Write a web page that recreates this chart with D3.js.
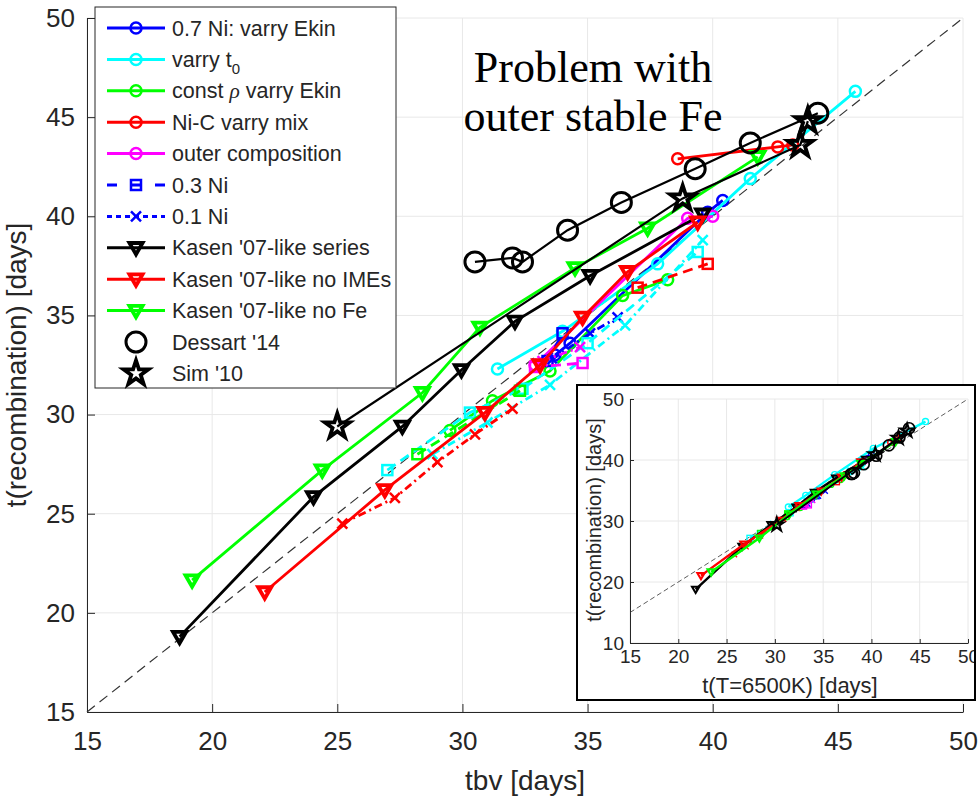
<!DOCTYPE html>
<html>
<head>
<meta charset="utf-8">
<script src="https://cdn.jsdelivr.net/npm/d3@7"></script>
<style>
  body { margin: 0; background: #fff; }
  svg { font-family: "Liberation Sans", Arial, sans-serif; }
</style>
</head>
<body>
<svg id="chart" width="979" height="806"></svg>
<script>
// tick values
var mainTicks = [15, 20, 25, 30, 35, 40, 45, 50];
var insetXTicks = [15, 20, 25, 30, 35, 40, 45, 50];
var insetYTicks = [10, 20, 30, 40, 50];

// each series: tbv, t(recombination), t(T=6500K) (for the inset)
var ni07Tbv = [33.7, 34.3, 39.8, 40.4];
var ni07Rec = [33.0, 33.6, 40.2, 40.8];
var ni07T65 = [33.2, 33.8, 39.6, 40.0];

var t0Tbv = [31.4, 34.0, 37.8, 41.5, 45.7];
var t0Rec = [32.3, 34.2, 37.6, 41.9, 46.3];
var t0T65 = [31.4, 33.2, 36.2, 40.2, 45.6];

var rhoTbv = [29.5, 31.2, 33.5, 36.4, 38.2];
var rhoRec = [29.2, 30.7, 32.2, 36.0, 36.8];
var rhoT65 = [29.8, 31.2, 32.6, 35.8, 36.8];

var nicTbv = [38.6, 42.6, 43.2];
var nicRec = [42.9, 43.5, 43.6];
var nicT65 = [42.0, 42.6, 42.8];

var outerTbv = [32.9, 39.0, 40.0];
var outerRec = [32.5, 39.9, 40.0];
var outerT65 = [33.0, 39.3, 39.4];

var ni03Tbv = [33.4, 34.0];
var ni03Rec = [32.7, 34.1];
var ni03T65 = [33.1, 34.3];

var ni01Tbv = [33.6, 35.1, 36.2];
var ni01Rec = [32.8, 34.1, 34.9];
var ni01T65 = [33.4, 34.5, 35.2];

var t0Ni03Tbv = [27.0, 30.3, 32.4, 35.0, 39.4];
var t0Ni03Rec = [27.2, 30.1, 31.3, 33.6, 38.2];
var t0Ni03T65 = [27.4, 30.5, 31.6, 33.7, 37.8];

var t0Ni01Tbv = [28.8, 31.0, 33.5, 36.5, 39.6];
var t0Ni01Rec = [28.0, 29.6, 31.5, 34.5, 38.8];
var t0Ni01T65 = [28.4, 29.8, 31.6, 34.4, 39.1];

var rhoNi03Tbv = [28.2, 32.3];
var rhoNi03Rec = [28.0, 31.2];
var rhoNi03T65 = [28.5, 31.3];

var nicNi03Tbv = [37.0, 39.8];
var nicNi03Rec = [36.4, 37.6];
var nicNi03T65 = [36.4, 37.4];

var nicNi01Tbv = [25.2, 27.3, 29.0, 30.5, 32.0];
var nicNi01Rec = [24.5, 25.8, 27.6, 29.0, 30.3];
var nicNi01T65 = [25.8, 27.0, 28.5, 29.7, 30.9];

var outerNi03Tbv = [32.9, 34.8];
var outerNi03Rec = [32.4, 32.6];
var outerNi03T65 = [33.0, 33.5];

var outerNi01Tbv = [33.2, 34.7];
var outerNi01Rec = [32.7, 33.4];
var outerNi01T65 = [33.2, 33.9];

var kasenTbv = [18.7, 24.05, 27.6, 29.96, 32.1, 35.1, 39.6];
var kasenRec = [18.8, 25.85, 29.4, 32.25, 34.7, 37.0, 40.1];
var kasenT65 = [21.8, 26.6, 29.6, 32.2, 34.1, 36.3, 39.4];

var kasenNoImeTbv = [22.1, 26.9, 30.9, 33.1, 34.8, 36.6, 39.4];
var kasenNoImeRec = [21.05, 26.2, 30.1, 32.5, 34.9, 37.2, 39.7];
var kasenNoImeT65 = [22.35, 26.8, 30.6, 32.5, 34.8, 36.9, 38.9];

var kasenNoFeTbv = [19.2, 24.4, 28.4, 30.7, 34.5, 37.4, 41.8];
var kasenNoFeRec = [21.65, 27.2, 31.1, 34.4, 37.4, 39.4, 43.0];
var kasenNoFeT65 = [23.4, 28.4, 31.5, 34.3, 37.2, 38.9, 42.5];

var dessartTbv = [30.5, 32.0, 32.4, 34.2, 36.35, 39.3, 41.5, 44.2];
var dessartRec = [37.7, 37.9, 37.7, 39.3, 40.7, 42.4, 43.7, 45.2];
var dessartT65 = [37.9, 38.2, 38.0, 39.2, 40.5, 41.8, 42.9, 43.9];

var simTbv = [25.0, 38.8, 43.5, 43.8];
var simRec = [29.4, 40.9, 43.6, 44.8];
var simT65 = [30.2, 40.4, 42.8, 43.7];

var BLUE = "#0000ff", CYAN = "#00ffff", GREEN = "#00ff00", RED = "#ff0000", MAG = "#ff00ff", BLACK = "#000000";
var DASH = "10,6", DASHDOT = "8,4,2,4";

function zipPts(a, b, c) {
  return a.map(function(v, i) { return { x: v, y: b[i], xi: c[i] }; });
}

// plotting order (later ones drawn on top)
var series = [
  { c: BLUE, dash: null, m: "o", pts: zipPts(ni07Tbv, ni07Rec, ni07T65) },
  { c: CYAN, dash: null, m: "o", pts: zipPts(t0Tbv, t0Rec, t0T65) },
  { c: GREEN, dash: null, m: "o", pts: zipPts(rhoTbv, rhoRec, rhoT65) },
  { c: RED, dash: null, m: "o", pts: zipPts(nicTbv, nicRec, nicT65) },
  { c: MAG, dash: null, m: "o", pts: zipPts(outerTbv, outerRec, outerT65) },
  { c: BLUE, dash: DASH, m: "s", pts: zipPts(ni03Tbv, ni03Rec, ni03T65) },
  { c: BLUE, dash: DASHDOT, m: "x", pts: zipPts(ni01Tbv, ni01Rec, ni01T65) },
  { c: CYAN, dash: DASH, m: "s", pts: zipPts(t0Ni03Tbv, t0Ni03Rec, t0Ni03T65) },
  { c: CYAN, dash: DASHDOT, m: "x", pts: zipPts(t0Ni01Tbv, t0Ni01Rec, t0Ni01T65) },
  { c: GREEN, dash: DASH, m: "s", pts: zipPts(rhoNi03Tbv, rhoNi03Rec, rhoNi03T65) },
  { c: RED, dash: DASH, m: "s", pts: zipPts(nicNi03Tbv, nicNi03Rec, nicNi03T65) },
  { c: RED, dash: DASHDOT, m: "x", pts: zipPts(nicNi01Tbv, nicNi01Rec, nicNi01T65) },
  { c: MAG, dash: DASH, m: "s", pts: zipPts(outerNi03Tbv, outerNi03Rec, outerNi03T65) },
  { c: MAG, dash: DASHDOT, m: "x", pts: zipPts(outerNi01Tbv, outerNi01Rec, outerNi01T65) },
  { c: BLACK, dash: null, m: "v", pts: zipPts(kasenTbv, kasenRec, kasenT65) },
  { c: RED, dash: null, m: "v", pts: zipPts(kasenNoImeTbv, kasenNoImeRec, kasenNoImeT65) },
  { c: GREEN, dash: null, m: "v", pts: zipPts(kasenNoFeTbv, kasenNoFeRec, kasenNoFeT65) },
  { c: BLACK, dash: null, m: "O", pts: zipPts(dessartTbv, dessartRec, dessartT65), lw: 2.2 },
  { c: BLACK, dash: null, m: "*", pts: zipPts(simTbv, simRec, simT65), lw: 2.2 }
];

var legendItems = [
  { c: BLUE, dash: null, m: "o", label: "0.7 Ni: varry Ekin" },
  { c: CYAN, dash: null, m: "o", label: "varry t", sub: "0" },
  { c: GREEN, dash: null, m: "o", label: "const ", rho: true },
  { c: RED, dash: null, m: "o", label: "Ni-C varry mix" },
  { c: MAG, dash: null, m: "o", label: "outer composition" },
  { c: BLUE, dash: "10,14", m: "s", label: "0.3 Ni" },
  { c: BLUE, dash: "5,4", m: "x", label: "0.1 Ni" },
  { c: BLACK, dash: null, m: "v", label: "Kasen '07-like series" },
  { c: RED, dash: null, m: "v", label: "Kasen '07-like no IMEs" },
  { c: GREEN, dash: null, m: "v", label: "Kasen '07-like no Fe" },
  { c: BLACK, dash: "none", m: "O", label: "Dessart '14" },
  { c: BLACK, dash: "none", m: "*", label: "Sim '10" }
];

var svg = d3.select("#chart");
var AX = "#262626", GRID = "#e8e8e8";

// draw one marker
function marker(g, m, c, px, py, s) {
  if (m === "o") {
    g.append("circle").attr("cx", px).attr("cy", py).attr("r", 5.5 * s)
      .attr("fill", "none").attr("stroke", c).attr("stroke-width", 2.5 * s);
  } else if (m === "O") {
    g.append("circle").attr("cx", px).attr("cy", py).attr("r", 10 * s)
      .attr("fill", "none").attr("stroke", c).attr("stroke-width", 3 * s);
  } else if (m === "s") {
    g.append("rect").attr("x", px - 5 * s).attr("y", py - 5 * s)
      .attr("width", 10 * s).attr("height", 10 * s)
      .attr("fill", "none").attr("stroke", c).attr("stroke-width", 2.5 * s);
  } else if (m === "x") {
    var d = 5 * s;
    g.append("path").attr("d", "M" + (px - d) + "," + (py - d) + "L" + (px + d) + "," + (py + d) +
      "M" + (px - d) + "," + (py + d) + "L" + (px + d) + "," + (py - d))
      .attr("stroke", c).attr("stroke-width", 2.5 * s);
  } else if (m === "v") {
    g.append("path").attr("d", d3.symbol(d3.symbolTriangle, 75 * s * s)())
      .attr("transform", "translate(" + px + "," + (py - 1 * s) + ") rotate(180)")
      .attr("fill", "none").attr("stroke", c).attr("stroke-width", 3.8 * s)
      .attr("stroke-linejoin", "miter");
  } else if (m === "*") {
    g.append("path").attr("d", d3.symbol(d3.symbolStar, 190 * s * s)())
      .attr("transform", "translate(" + px + "," + py + ")")
      .attr("fill", "none").attr("stroke", c).attr("stroke-width", 3.8 * s);
  }
}

function drawPanel(g, xs, ys, xKey, xt, yt, opt) {
  // grid
  g.append("g").selectAll("line").data(xt).enter().append("line")
    .attr("x1", d => xs(d)).attr("x2", d => xs(d))
    .attr("y1", ys.range()[0]).attr("y2", ys.range()[1])
    .attr("stroke", GRID).attr("stroke-width", 1);
  g.append("g").selectAll("line").data(yt).enter().append("line")
    .attr("y1", d => ys(d)).attr("y2", d => ys(d))
    .attr("x1", xs.range()[0]).attr("x2", xs.range()[1])
    .attr("stroke", GRID).attr("stroke-width", 1);

  // axes
  var bottom = d3.axisBottom(xs).tickValues(xt).tickSizeInner(-opt.tick).tickSizeOuter(0).tickPadding(opt.padX);
  var left = d3.axisLeft(ys).tickValues(yt).tickSizeInner(-opt.tick).tickSizeOuter(0).tickPadding(opt.padY);
  var gb = g.append("g").attr("transform", "translate(0," + ys.range()[0] + ")").call(bottom);
  var gl = g.append("g").attr("transform", "translate(" + xs.range()[0] + ",0)").call(left);
  [gb, gl].forEach(function(a) {
    a.select(".domain").attr("stroke", AX).attr("stroke-width", 1);
    a.selectAll(".tick line").attr("stroke", AX);
    a.selectAll(".tick text").attr("fill", AX).attr("font-size", opt.fs)
      .style("font-family", "'Liberation Sans', Arial, sans-serif");
  });

  // y = x reference
  var lo = Math.max(xs.domain()[0], ys.domain()[0]), hi = Math.min(xs.domain()[1], ys.domain()[1]);
  g.append("line").attr("x1", xs(lo)).attr("y1", ys(lo)).attr("x2", xs(hi)).attr("y2", ys(hi))
    .attr("stroke", "#333").attr("stroke-width", opt.big ? 1.2 : 0.8).attr("stroke-dasharray", opt.big ? "10,6" : "5,3");

  // series
  var line = d3.line().x(d => xs(d[xKey])).y(d => ys(d.y));
  series.forEach(function(se) {
    var sg = g.append("g");
    sg.append("path").datum(se.pts).attr("d", line)
      .attr("fill", "none").attr("stroke", se.c)
      .attr("stroke-width", (se.lw || 2.8) * opt.lw)
      .attr("stroke-dasharray", se.dash ? (opt.big ? se.dash : se.dash.split(",").map(v => v / 2).join(",")) : null);
    se.pts.forEach(function(p) { marker(sg, se.m, se.c, xs(p[xKey]), ys(p.y), opt.s); });
  });
}

// ---------- main axes ----------
var x = d3.scaleLinear().domain([15, 50]).range([87, 963]);
var y = d3.scaleLinear().domain([15, 50]).range([712, 18]);
var mainG = svg.append("g");
drawPanel(mainG, x, y, "x", mainTicks, mainTicks, { tick: 8, padX: 20, padY: 12, fs: 26, s: 1, lw: 1, big: true });

mainG.append("text").attr("x", 525).attr("y", 790).attr("text-anchor", "middle")
  .attr("font-size", 28).attr("fill", AX).text("tbv [days]");
mainG.append("text").attr("transform", "translate(26,365) rotate(-90)").attr("text-anchor", "middle")
  .attr("font-size", 28).attr("fill", AX).text("t(recombination) [days]");

// annotation
var note = svg.append("text").attr("text-anchor", "middle")
  .style("font-family", "'Liberation Serif', 'Times New Roman', serif").attr("font-size", 44).attr("fill", "#000");
note.append("tspan").attr("x", 593).attr("y", 82).text("Problem with");
note.append("tspan").attr("x", 593).attr("y", 131).text("outer stable Fe");

// ---------- legend ----------
var lg = svg.append("g");
lg.append("rect").attr("x", 95).attr("y", 7).attr("width", 301).attr("height", 381)
  .attr("fill", "#fff").attr("stroke", AX).attr("stroke-width", 1);
legendItems.forEach(function(it, i) {
  var ly = 28 + i * 31.4;
  if (it.dash !== "none") {
    lg.append("line").attr("x1", 107).attr("x2", 165).attr("y1", ly).attr("y2", ly)
      .attr("stroke", it.c).attr("stroke-width", 3).attr("stroke-dasharray", it.dash);
  }
  marker(lg, it.m, it.c, 136, ly, 1);
  var t = lg.append("text").attr("x", 172).attr("y", ly + 7.5).attr("font-size", 21.5).attr("fill", "#262626");
  if (it.sub) {
    t.append("tspan").text(it.label);
    t.append("tspan").attr("font-size", 15).attr("dy", 7).text(it.sub);
  } else if (it.rho) {
    t.append("tspan").text(it.label);
    t.append("tspan").style("font-style", "italic").style("font-family", "'Liberation Serif', serif").text("\u03C1");
    t.append("tspan").text(" varry Ekin");
  } else {
    t.text(it.label);
  }
});

// ---------- inset ----------
var defs = svg.append("defs");
defs.append("clipPath").attr("id", "insetClip").append("rect")
  .attr("x", 577).attr("y", 385).attr("width", 398).attr("height", 315);
var inset = svg.append("g").attr("clip-path", "url(#insetClip)");
inset.append("rect").attr("x", 577).attr("y", 385).attr("width", 398).attr("height", 315)
  .attr("fill", "#fff");
var xi = d3.scaleLinear().domain([15, 50]).range([630, 968]);
var yi = d3.scaleLinear().domain([10, 50]).range([643, 399]);
drawPanel(inset, xi, yi, "xi", insetXTicks, insetYTicks, { tick: 4, padX: 7, padY: 6, fs: 19, s: 0.55, lw: 0.85, big: false });
inset.append("text").attr("x", 790).attr("y", 693).attr("text-anchor", "middle")
  .attr("font-size", 22).attr("fill", AX).text("t(T=6500K) [days]");
inset.append("text").attr("transform", "translate(601,520) rotate(-90)").attr("text-anchor", "middle")
  .attr("font-size", 20).attr("fill", AX).text("t(recombination) [days]");
svg.append("rect").attr("x", 577).attr("y", 385).attr("width", 398).attr("height", 315)
  .attr("fill", "none").attr("stroke", "#000").attr("stroke-width", 2);
</script>
</body>
</html>
